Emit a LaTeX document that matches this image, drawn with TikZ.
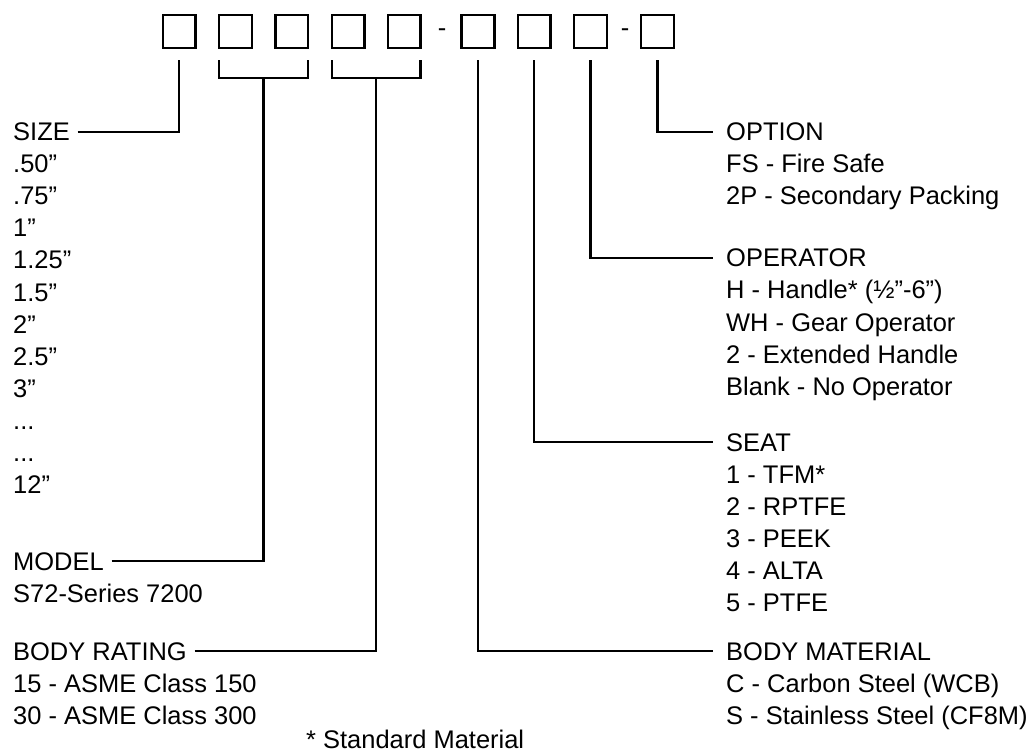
\documentclass[tikz,border=0pt]{standalone}
\usepackage{fontspec}
\setmainfont{Liberation Sans}
\usepackage{tikz}
\usetikzlibrary{positioning, calc}

\newcommand\legendfont{\fontsize{19.1pt}{24pt}\selectfont}
\newcommand\gapdots{...}

\begin{document}
\begin{tikzpicture}[x=0.75pt, y=-0.75pt, line width=1.8pt,
    slot/.style={draw, minimum size=24.5pt, inner sep=0pt},
    sepmark/.style={inner sep=0pt, font=\legendfont},
    head/.style={anchor=base west, inner sep=0pt, font=\legendfont},
    item/.style={anchor=base west, inner sep=0pt, font=\legendfont},
    lconn/.style={shorten <=5pt},
    conn/.style={shorten <=5pt, shorten >=8.25pt},
    rconn/.style={shorten <=8.25pt, shorten >=9pt}]
    \useasboundingbox (0,0) rectangle (1035,752);

    % code boxes
    \node[slot]                     (b1) at (179.25,31.5) {};
    \node[slot, right=15.9pt of b1] (b2) {};
    \node[slot, right=15.9pt of b2] (b3) {};
    \node[slot, right=15.9pt of b3] (b4) {};
    \node[slot, right=15.9pt of b4] (b5) {};
    \node[slot, right=28.95pt of b5] (b6) {};
    \node[slot, right=15.9pt of b6] (b7) {};
    \node[slot, right=15.9pt of b7] (b8) {};
    \node[slot, right=24pt of b8]   (b9) {};
    \node[sepmark] (d1) at ($(b5.east)!0.5!(b6.west)+(1,1)$) {-};
    \node[sepmark] (d2) at ($(b8.east)!0.5!(b9.west)+(1,1)$) {-};

    % left legend
    \node[head] (szhd) at (12,141) {SIZE};
    \foreach \t [count=\k] in {.50”, .75”, 1”, 1.25”, 1.5”, 2”, 2.5”, 3”, \gapdots, \gapdots, 12”}
        \node[item] (sz\k) at ($(szhd.base west)+(0,32*\k)$) {\t};
    \node[head] (modhd) at (12,570) {MODEL};
    \node[item] (mod1) at ($(modhd.base west)+(0,32)$) {S72-Series 7200};
    \node[head] (brhd) at (12,660) {BODY RATING};
    \foreach \t [count=\k] in {15 - ASME Class 150, 30 - ASME Class 300}
        \node[item] (br\k) at ($(brhd.base west)+(0,32*\k)$) {\t};
    \node[item] (stdnote) at (305,748) {* Standard Material};

    % right legend
    \node[head] (opthd) at (725,141) {OPTION};
    \foreach \t [count=\k] in {FS - Fire Safe, 2P - Secondary Packing}
        \node[item] (opt\k) at ($(opthd.base west)+(0,32*\k)$) {\t};
    \node[head] (ophd) at (725,267) {OPERATOR};
    \foreach \t [count=\k] in {H - Handle* (½”-6”), WH - Gear Operator, 2 - Extended Handle, Blank - No Operator}
        \node[item] (op\k) at ($(ophd.base west)+(0,32*\k)$) {\t};
    \node[head] (seathd) at (725,451) {SEAT};
    \foreach \t [count=\k] in {1 - TFM*, 2 - RPTFE, 3 - PEEK, 4 - ALTA, 5 - PTFE}
        \node[item] (seat\k) at ($(seathd.base west)+(0,32*\k)$) {\t};
    \node[head] (bmhd) at (725,660) {BODY MATERIAL};
    \foreach \t [count=\k] in {C - Carbon Steel (WCB), S - Stainless Steel (CF8M)}
        \node[item] (bm\k) at ($(bmhd.base west)+(0,32*\k)$) {\t};

    % brackets under the paired boxes, legs on the outer edges
    \draw ($(b2.south west)+(1.2,11)$) -- ++(0,18) -| ($(b3.south east)+(-1.2,11)$);
    \draw ($(b4.south west)+(1.2,11)$) -- ++(0,18) -| ($(b5.south east)+(-1.2,11)$);
    \coordinate (m23) at ($(b2.south)!0.5!(b3.south)+(0,29)$);
    \coordinate (m45) at ($(b4.south)!0.5!(b5.south)+(0,29)$);

    % connectors
    \draw[conn]  (szhd.east)  -| (b1.south);
    \draw[lconn] (modhd.east) -| (m23);
    \draw[lconn] (brhd.east)  -| (m45);
    \draw[rconn] (b6.south) |- (bmhd.west);
    \draw[rconn] (b7.south) |- (seathd.west);
    \draw[rconn] (b8.south) |- (ophd.west);
    \draw[rconn] (b9.south) |- (opthd.west);
\end{tikzpicture}
\end{document}
